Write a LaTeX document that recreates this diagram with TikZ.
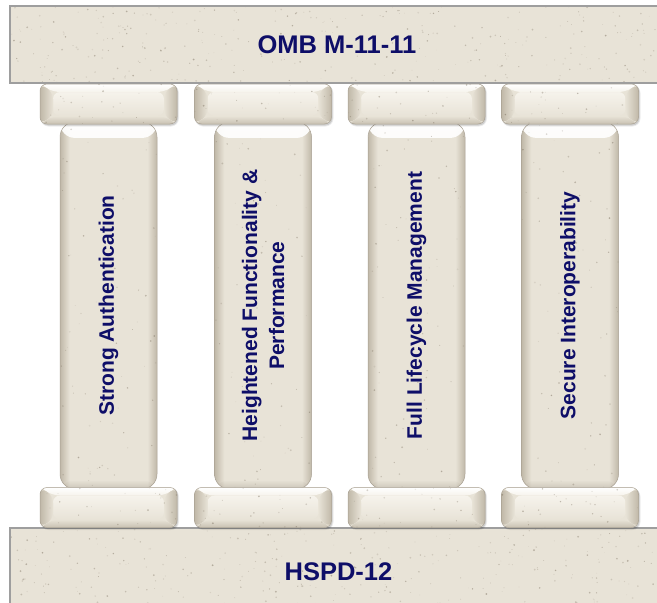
\documentclass[tikz,border=0pt]{standalone}
\usepackage{fontspec}
\setmainfont{Liberation Sans}
\usetikzlibrary{calc,fadings}
\definecolor{stone}{RGB}{232,227,215}
\definecolor{stonelight}{RGB}{246,243,236}
\definecolor{stonedark}{RGB}{192,184,168}
\definecolor{stoneedge}{RGB}{168,160,146}
\definecolor{barline}{RGB}{158,158,158}
\definecolor{navytext}{RGB}{14,14,104}
\definecolor{speck}{RGB}{110,98,80}
\pgfdeclarehorizontalshading{pillarshade}{100bp}{color(0bp)=(stonedark); color(25bp)=(stonedark); color(30bp)=(stone); color(70bp)=(stone); color(75bp)=(stonedark); color(100bp)=(stonedark)}
\newcommand\stonespeckles[3]{%
  \foreach \k in {1,...,#1}{%
    \pgfmathsetmacro\sx{rnd*#2}%
    \pgfmathsetmacro\sy{rnd*#3}%
    \pgfmathsetmacro\sr{0.3+0.7*rnd}%
    \pgfmathsetmacro\so{0.10+0.35*rnd}%
    \fill[speck,opacity=\so] ($(path picture bounding box.south west)+(\sx pt,\sy pt)$) circle[radius=\sr pt];
  }}
\newcommand\capbevel[2]{%
  \coordinate (bA) at (path picture bounding box.north west);
  \coordinate (bB) at (path picture bounding box.north east);
  \coordinate (bC) at (path picture bounding box.south east);
  \coordinate (bD) at (path picture bounding box.south west);
  \fill[top color=stonelight, bottom color=stone] ($(bA)+(#1pt,-#2pt)$) rectangle ($(bC)+(-#1pt,#2pt)$);
  \fill[top color=white, bottom color=stonelight] (bA) -- (bB) -- ($(bB)+(-#1pt,-#2pt)$) -- ($(bA)+(#1pt,-#2pt)$) -- cycle;
  \fill[left color=stonedark, right color=stone] (bA) -- ($(bA)+(#1pt,-#2pt)$) -- ($(bD)+(#1pt,#2pt)$) -- (bD) -- cycle;
  \fill[left color=stone, right color=stonedark] (bB) -- (bC) -- ($(bC)+(-#1pt,#2pt)$) -- ($(bB)+(-#1pt,-#2pt)$) -- cycle;
  \fill[top color=stone, bottom color=stonedark!80!stone] (bD) -- (bC) -- ($(bC)+(-#1pt,#2pt)$) -- ($(bD)+(#1pt,#2pt)$) -- cycle;
}
\newcommand\capital[3]{%
  \fill[black,opacity=.07,rounded corners=8pt] ({#2-68},{#3-19}) rectangle ({#2+70.5},{#3+22.5});
  \fill[black,opacity=.13,rounded corners=7pt] ({#2-67.5},{#3-19.5}) rectangle ({#2+69.5},{#3+21.5});
  \node[capbox, path picture={\capbevel{13}{8}\stonespeckles{25}{137}{40}}] (#1) at (#2,#3) {};
}
\newcommand\pillar[3]{%
  \node[pillarbox, path picture={%
    \fill[white, opacity=.95, path fading=south] (path picture bounding box.north west) rectangle ($(path picture bounding box.north east)+(0,-16pt)$);
    \fill[stoneedge, opacity=.45, path fading=north] ($(path picture bounding box.south west)+(0,9pt)$) rectangle (path picture bounding box.south east);
    \stonespeckles{70}{97}{367}}] (#1) at (#2,#3) {};
}
\tikzset{
  barbox/.style={rectangle, fill=stone, inner sep=0pt, outer sep=0pt, text=navytext,
    font=\bfseries\fontsize{25.5}{30}\selectfont},
  capbox/.style={rectangle, rounded corners=7pt, minimum width=137pt, minimum height=40pt,
    inner sep=0pt, fill=stone, draw=stoneedge, line width=0.5pt},
  pillarbox/.style={rectangle, rounded corners=15pt, minimum width=97pt, minimum height=367pt,
    inner sep=0pt, shading=pillarshade, draw=stoneedge, line width=0.5pt},
  pillartext/.style={rotate=90, text=navytext, align=center,
    font=\bfseries\fontsize{21}{27}\selectfont},
}
\begin{document}
\begin{tikzpicture}[x=1pt,y=-1pt]
\pgfmathsetseed{4242}
\useasboundingbox (0,0) rectangle (657,603);
% top bar
\node[barbox, minimum width=654pt, minimum height=77pt,
  path picture={\stonespeckles{350}{654}{77}}] (omb) at (337,44.5) {\raisebox{-1.5pt}{OMB M-11-11}};
\draw[barline, line width=2.5pt] (664,6) -- (10,6) -- (10,83) -- (664,83);
% base bar
\node[barbox, minimum width=657pt, minimum height=88pt,
  path picture={\stonespeckles{350}{657}{88}}] (hspd) at (338.5,572) {HSPD-12};
\draw[barline, line width=2.5pt] (667,528) -- (10,528) -- (10,616);
% pillars
\pillar{p1}{108.5}{305.5}
\pillar{p2}{263}{305.5}
\pillar{p3}{416.5}{305.5}
\pillar{p4}{570}{305.5}
% capitals
\capital{c1}{108.5}{104}
\capital{c2}{263}{104}
\capital{c3}{416.5}{104}
\capital{c4}{570}{104}
\capital{b1}{108.5}{507.5}
\capital{b2}{263}{507.5}
\capital{b3}{416.5}{507.5}
\capital{b4}{570}{507.5}
% pillar texts
\node[pillartext] (t1) at (p1) {Strong Authentication};
\node[pillartext] (t2) at (p2) {Heightened Functionality \&\\Performance};
\node[pillartext] (t3) at (p3) {Full Lifecycle Management};
\node[pillartext] (t4) at (p4) {Secure Interoperability};
\end{tikzpicture}
\end{document}
